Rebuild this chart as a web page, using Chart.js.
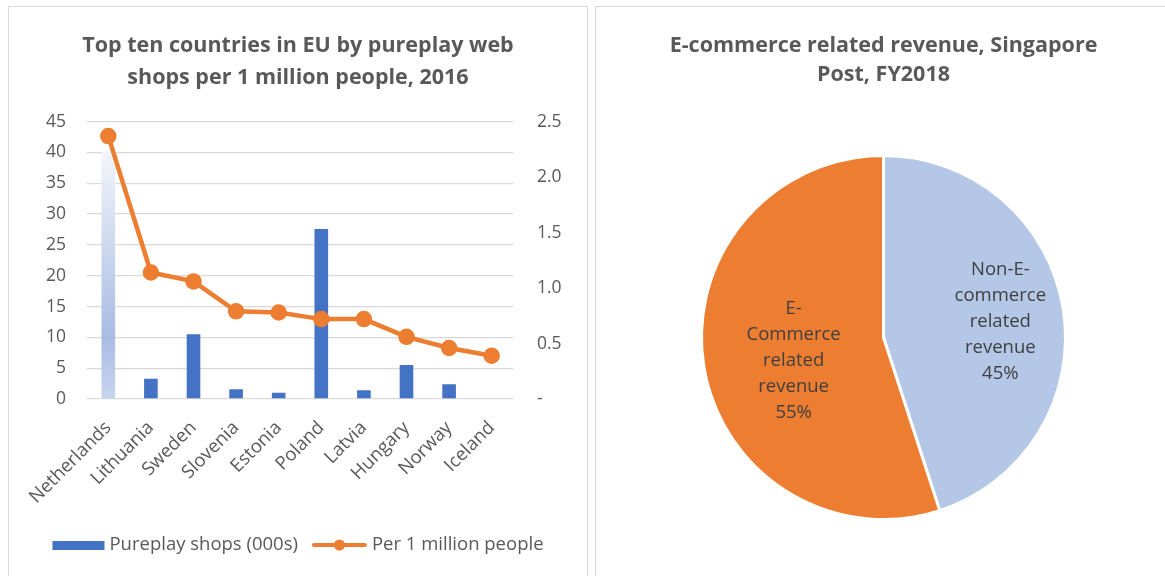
<!DOCTYPE html>
<html>
<head>
<meta charset="utf-8">
<script src="https://cdn.jsdelivr.net/npm/chart.js@4"></script>
<style>
  html, body { margin:0; padding:0; background:#fff; overflow:hidden; }
  .panel { position:absolute; top:6px; height:600px; border:1px solid #d9d9d9; background:#fff; }
  #p-left  { left:8px;   width:578px; }
  #p-right { left:595px; width:600px; }
  canvas { position:absolute; left:0; top:0; }
</style>
</head>
<body>
<div class="panel" id="p-left"><canvas id="chartShops" width="578" height="569"></canvas></div>
<div class="panel" id="p-right"><canvas id="chartPie" width="575" height="569"></canvas></div>
<script>
/* ---- data ---- */
const countries  = ['Netherlands','Lithuania','Sweden','Slovenia','Estonia','Poland','Latvia','Hungary','Norway','Iceland'];
const shops000s  = [40.3, 3.3, 10.5, 1.6, 1.0, 27.6, 1.4, 5.5, 2.4, 0];
const perMillion = [2.37, 1.14, 1.06, 0.79, 0.78, 0.72, 0.72, 0.56, 0.46, 0.39];
const leftTicks  = [0, 5, 10, 15, 20, 25, 30, 35, 40, 45];
const rightTicks = [0, 0.5, 1.0, 1.5, 2.0, 2.5];

const pieLabels = [['Non-E-','commerce','related','revenue'], ['E-','Commerce','related','revenue']];
const pieShares = [45, 55];

/* ---- look ---- */
const FONT    = '"Open Sans", sans-serif';
const txtClr  = '#595959';
const gridClr = '#d9d9d9';
const BLUE    = '#4472c4';
const ORANGE  = '#ed7d31';
const $ = id => document.getElementById(id);

Chart.defaults.font.family = FONT;
Chart.defaults.color = txtClr;
Chart.defaults.animation = false;

/* -------- bar + line -------- */
function barFill(ctx) {
  const ch = ctx.chart;
  if (ctx.dataIndex !== 0 || !ch.chartArea || !ch.scales.y) return BLUE;
  const y = ch.scales.y;
  const g = ch.ctx.createLinearGradient(0, y.getPixelForValue(shops000s[0]), 0, y.getPixelForValue(0));
  g.addColorStop(0,    '#f3f6fb');
  g.addColorStop(0.75, '#a8bce3');
  g.addColorStop(1,    '#c8d5ef');
  return g;
}

const legendPlugin = {
  id:'bottomLegend',
  afterDraw(chart) {
    const c = chart.ctx;
    const y = chart.chartArea.bottom + 146;
    const [bar, line] = chart.data.datasets;
    c.save();
    c.font = '18.5px ' + FONT;
    c.textBaseline = 'middle';
    const w1 = c.measureText(bar.label).width, w2 = c.measureText(line.label).width;
    const total = 52 + 5 + w1 + 14 + 55 + 5 + w2;
    let x = (chart.width - total) / 2;
    c.fillStyle = BLUE;
    c.fillRect(x, y - 4, 52, 9);
    x += 57;
    c.fillStyle = txtClr;
    c.fillText(bar.label, x, y);
    x += w1 + 14;
    c.strokeStyle = ORANGE; c.lineWidth = 4; c.lineCap = 'round';
    c.beginPath(); c.moveTo(x + 2, y); c.lineTo(x + 53, y); c.stroke();
    c.fillStyle = ORANGE;
    c.beginPath(); c.arc(x + 27.5, y, 5.5, 0, Math.PI * 2); c.fill();
    x += 60;
    c.fillStyle = txtClr;
    c.fillText(line.label, x, y);
    c.restore();
  }
};

new Chart($('chartShops'), {
  type:'bar',
  data:{ labels:countries, datasets:[
    { type:'bar', label:'Pureplay shops (000s)', data:shops000s, yAxisID:'y',
      backgroundColor:barFill, barPercentage:0.32, categoryPercentage:1, order:1 },
    { type:'line', label:'Per 1 million people', data:perMillion, yAxisID:'y1',
      borderColor:ORANGE, borderWidth:4.5, pointRadius:6, pointBackgroundColor:ORANGE,
      pointBorderColor:ORANGE, tension:0, order:0 },
  ]},
  options:{
    responsive:false,
    layout:{ padding:0 },
    plugins:{
      legend:{ display:false },
      tooltip:{ enabled:false },
      title:{ display:true, text:['Top ten countries in EU by pureplay web','shops per 1 million people, 2016'],
        color:txtClr, font:{ size:21.5, weight:'bold', lineHeight:1.48 }, padding:{ top:23, bottom:28 } },
    },
    scales:{
      x:{ grid:{ display:false }, border:{ display:false },
          ticks:{ color:txtClr, font:{ size:18.5 }, minRotation:45, maxRotation:45, padding:10 },
          afterFit:s => { s.height = 177; } },
      y:{ position:'left', min:0, max:45,
          afterBuildTicks:s => { s.ticks = leftTicks.map(v => ({ value:v })); },
          grid:{ color:gridClr, drawTicks:false, lineWidth:1.3 }, border:{ display:false },
          ticks:{ color:txtClr, font:{ size:17.5 }, padding:21 },
          afterFit:s => { s.width = 78; } },
      y1:{ position:'right', min:0, max:2.5,
          afterBuildTicks:s => { s.ticks = rightTicks.map(v => ({ value:v })); },
          grid:{ display:false, drawTicks:false }, border:{ display:false },
          ticks:{ color:txtClr, font:{ size:17.5 }, padding:24,
                  callback:v => v === 0 ? '-' : (+v).toFixed(1) },
          afterFit:s => { s.width = 74; } },
    },
  },
  plugins:[legendPlugin],
});

/* -------- pie -------- */
const pieText = {
  id:'pieText',
  afterDatasetsDraw(chart) {
    const c = chart.ctx;
    const meta = chart.getDatasetMeta(0);
    const frac = [0.65, 0.5];
    const dy   = [3, 9];
    c.save();
    c.font = '18.5px ' + FONT;
    c.fillStyle = '#404040';
    c.textAlign = 'center';
    c.textBaseline = 'middle';
    meta.data.forEach((arc, i) => {
      const mid = (arc.startAngle + arc.endAngle) / 2;
      const r   = arc.outerRadius * frac[i];
      const cx  = arc.x + Math.cos(mid) * r;
      const cy  = arc.y + Math.sin(mid) * r + dy[i];
      const lines = [...pieLabels[i], pieShares[i] + '%'];
      const lh = 26;
      lines.forEach((t, k) => c.fillText(t, cx, cy + (k - (lines.length - 1) / 2) * lh));
    });
    c.restore();
  }
};

new Chart($('chartPie'), {
  type:'pie',
  data:{ labels:pieLabels.map(l => l.join(' ')), datasets:[
    { data:pieShares, backgroundColor:['#b4c7e7', ORANGE], borderColor:'#fff', borderWidth:3 },
  ]},
  options:{
    responsive:false,
    layout:{ padding:{ bottom:55 } },
    plugins:{
      legend:{ display:false },
      tooltip:{ enabled:false },
      title:{ display:true, text:['E-commerce related revenue, Singapore','Post, FY2018'],
        color:txtClr, font:{ size:21.5, weight:'bold', lineHeight:1.35 }, padding:{ top:24, bottom:65 } },
    },
  },
  plugins:[pieText],
});
</script>
</body>
</html>
